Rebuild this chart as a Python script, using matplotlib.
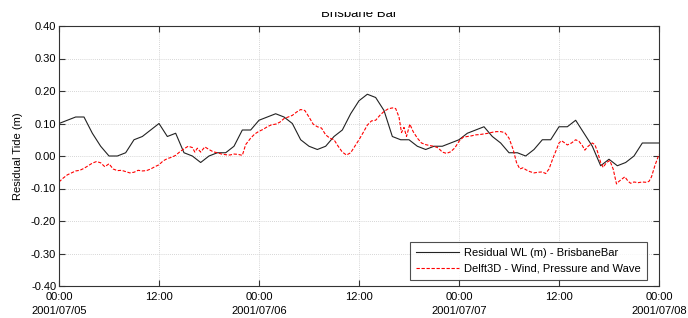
import matplotlib
matplotlib.use("Agg")
import matplotlib.pyplot as plt
from matplotlib.patches import Rectangle

plt.rcParams['font.family'] = ['Liberation Sans', 'DejaVu Sans']

# Observed residual water level (hourly), hours from 2001/07/05 00:00
obs_hours = list(range(0, 73))
obs_values = [0.10, 0.11, 0.12, 0.12, 0.07, 0.03, 0.00, 0.00, 0.01, 0.05,
              0.06, 0.08, 0.10, 0.06, 0.07, 0.01, 0.00, -0.02, 0.00, 0.01,
              0.01, 0.03, 0.08, 0.08, 0.11, 0.12, 0.13, 0.12, 0.10, 0.05,
              0.03, 0.02, 0.03, 0.06, 0.08, 0.13, 0.17, 0.19, 0.18, 0.14,
              0.06, 0.05, 0.05, 0.03, 0.02, 0.03, 0.03, 0.04, 0.05, 0.07,
              0.08, 0.09, 0.06, 0.04, 0.01, 0.01, 0.00, 0.02, 0.05, 0.05,
              0.09, 0.09, 0.11, 0.07, 0.03, -0.03, -0.01, -0.03, -0.02, 0.00,
              0.04, 0.04, 0.04]

# Delft3D model residual
mod_hours = [0.0, 0.5, 1.0, 1.5, 2.0, 2.5, 3.0, 3.5, 4.0, 4.5, 5.0, 5.5, 6.0, 6.5,
             7.0, 7.5, 8.0, 8.5, 9.0, 9.5, 10.0, 10.5, 11.0, 11.5, 12.0, 12.5,
             13.0, 13.5, 14.0, 14.5, 15.0, 15.5, 16.0, 16.3, 16.6, 17.0, 17.5,
             18.0, 18.5, 19.0, 19.5, 20.0, 20.5, 21.0, 21.5, 22.0, 22.4, 23.0,
             23.5, 24.0, 24.5, 25.0, 25.5, 26.0, 26.5, 27.0, 27.5, 28.0, 28.5,
             29.0, 29.5, 30.0, 30.5, 31.0, 31.5, 32.0, 32.5, 33.0, 33.5, 34.0,
             34.5, 35.0, 35.5, 36.0, 36.5, 37.0, 37.5, 38.0, 38.5, 39.0, 39.5,
             40.0, 40.4, 40.8, 41.1, 41.4, 41.7, 42.1, 42.5, 43.0, 43.5, 44.0,
             44.5, 45.0, 45.5, 46.0, 46.5, 47.0, 47.5, 48.0, 48.5, 49.0, 49.5,
             50.0, 50.5, 51.0, 51.5, 52.0, 52.5, 53.0, 53.5, 54.0, 54.5, 54.9,
             55.3, 55.7, 56.0, 56.5, 57.0, 57.5, 58.0, 58.4, 58.8, 59.3, 59.7,
             60.0, 60.3, 60.7, 61.0, 61.5, 62.0, 62.4, 62.8, 63.1, 63.5, 64.0,
             64.3, 64.6, 65.0, 65.3, 65.7, 66.1, 66.5, 66.9, 67.2, 67.6, 67.9,
             68.3, 68.6, 69.0, 69.5, 70.0, 70.5, 70.8, 71.1, 71.5, 72.0]
mod_values = [-0.080, -0.068, -0.058, -0.052, -0.046, -0.044, -0.038, -0.030,
              -0.022, -0.017, -0.021, -0.033, -0.024, -0.040, -0.045, -0.044,
              -0.048, -0.052, -0.050, -0.044, -0.046, -0.045, -0.040, -0.033,
              -0.027, -0.015, -0.008, -0.004, 0.002, 0.013, 0.022, 0.030,
              0.026, 0.012, 0.024, 0.012, 0.028, 0.020, 0.013, 0.010, 0.006,
              0.004, 0.003, 0.006, 0.005, 0.002, 0.035, 0.055, 0.068, 0.076,
              0.082, 0.090, 0.096, 0.098, 0.104, 0.115, 0.120, 0.125, 0.135,
              0.143, 0.140, 0.120, 0.098, 0.090, 0.086, 0.065, 0.055, 0.050,
              0.030, 0.012, 0.003, 0.010, 0.030, 0.050, 0.072, 0.095, 0.108,
              0.110, 0.125, 0.137, 0.145, 0.148, 0.146, 0.120, 0.072, 0.088,
              0.060, 0.098, 0.075, 0.055, 0.040, 0.035, 0.032, 0.030, 0.025,
              0.012, 0.008, 0.013, 0.025, 0.045, 0.058, 0.060, 0.062, 0.065,
              0.066, 0.068, 0.070, 0.073, 0.075, 0.075, 0.072, 0.055, 0.020,
              -0.020, -0.040, -0.036, -0.042, -0.048, -0.052, -0.050, -0.049,
              -0.054, -0.040, -0.005, 0.020, 0.040, 0.047, 0.040, 0.034, 0.040,
              0.050, 0.045, 0.032, 0.018, 0.030, 0.040, 0.035, 0.015, -0.020,
              -0.035, -0.020, -0.014, -0.040, -0.086, -0.078, -0.070, -0.064,
              -0.078, -0.084, -0.080, -0.082, -0.080, -0.081, -0.078, -0.064,
              -0.030, 0.005]

xtick_pos = [0, 12, 24, 36, 48, 60, 72]
xtick_labels = ["00:00\n2001/07/05", "12:00", "00:00\n2001/07/06", "12:00",
                "00:00\n2001/07/07", "12:00", "00:00\n2001/07/08"]
ytick_pos = [-0.4, -0.3, -0.2, -0.1, 0.0, 0.1, 0.2, 0.3, 0.4]
ytick_labels = ["-0.40", "-0.30", "-0.20", "-0.10", "0.00", "0.10", "0.20", "0.30", "0.40"]

W, H = 688, 318
fig = plt.figure(figsize=(W / 100, H / 100), dpi=100)
ax = fig.add_axes([59 / W, (H - 286) / H, 600 / W, 260 / H])

ax.plot(obs_hours, obs_values, color='#222222', lw=0.8,
        label='Residual WL (m) - BrisbaneBar')
ax.plot(mod_hours, mod_values, color='#ff0000', lw=0.8, ls=(0, (3, 1.5)),
        label='Delft3D - Wind, Pressure and Wave')

ax.set_xlim(0, 72)
ax.set_ylim(-0.4, 0.4)
ax.set_xticks(xtick_pos)
ax.set_xticklabels(xtick_labels, fontsize=8, linespacing=1.55)
ax.set_yticks(ytick_pos)
ax.set_yticklabels(ytick_labels, fontsize=8)
ax.tick_params(direction='in', top=True, right=True, length=4, width=0.8,
               color='#333333')
ax.tick_params(axis='y', pad=2)
ax.tick_params(axis='x', pad=4)
ax.grid(True, color='#c8c8c8', ls=(0, (1, 1.5)), lw=0.6)
for s in ax.spines.values():
    s.set_color('#333333')
    s.set_linewidth(0.8)

ax.set_ylabel('Residual Tide (m)', fontsize=8, labelpad=6)

leg = ax.legend(loc='lower right', bbox_to_anchor=(647 / W, (H - 280) / H),
                bbox_transform=fig.transFigure, borderaxespad=0,
                fontsize=8, frameon=True, fancybox=False, edgecolor='#222222',
                handlelength=3.8, handletextpad=0.5, borderpad=0.55,
                labelspacing=0.5)
leg.get_frame().set_linewidth(0.8)

fig.text(359 / W, (H - 17) / H, 'Brisbane Bar', ha='center', va='baseline',
         fontsize=9.5)
# the reference image is cropped through the title
fig.add_artist(Rectangle((0, (H - 12) / H), 1, 12 / H, transform=fig.transFigure,
                         facecolor='white', edgecolor='none', zorder=10))

fig.savefig('out.png', dpi=100)
